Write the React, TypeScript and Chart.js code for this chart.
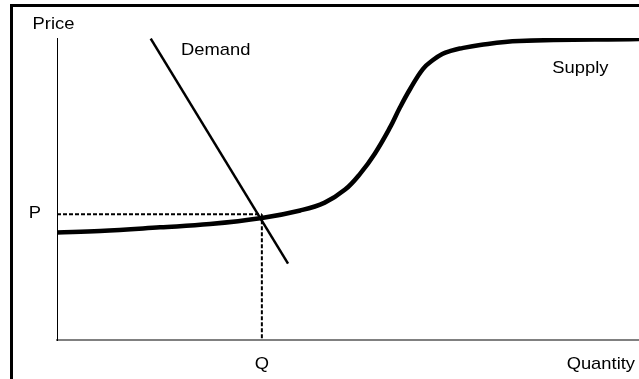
import React, { useEffect, useRef } from "react";
import { Chart, registerables } from "chart.js";

Chart.register(...registerables);

// Supply curve (quantity, price) in 0..100 units
const supplyQ = [0, 7.4, 17.7, 26.3, 35.2, 41.8, 46.0, 49.5, 52.1, 54.6, 57.2, 58.9, 60.7, 62.9, 64.6, 66.2, 67.8, 69.2, 72.7, 79.4, 100];
const supplyP = [35.6, 36.1, 37.3, 38.4, 40.4, 42.9, 45.5, 49.8, 55.1, 61.7, 70.3, 76.9, 83.2, 89.8, 92.7, 94.7, 95.8, 96.5, 97.7, 99.0, 99.7];

// Demand line
const demandQ = [16.1, 39.7];
const demandP = [99.8, 25.3];

// Equilibrium
const eqQ = 35.2;
const eqP = 41.6;

// Labels
const axisLabels = { price: "Price", quantity: "Quantity", p: "P", q: "Q" };
const curveLabels = [
  { text: "Demand", q: 21.3, p: 94.3 },
  { text: "Supply", q: 85.1, p: 88.4 },
];

const FONT = '17px "Liberation Sans", Arial, sans-serif';

const labelPlugin = {
  id: "econLabels",
  afterDraw(chart: any) {
    const ctx = chart.ctx;
    const xs = chart.scales.x;
    const ys = chart.scales.y;
    const area = chart.chartArea;
    const draw = (t: string, x: number, y: number, align: CanvasTextAlign) => {
      ctx.save();
      ctx.font = FONT;
      ctx.fillStyle = "#000";
      ctx.textBaseline = "alphabetic";
      ctx.translate(x, y);
      ctx.scale(1.08, 1);
      ctx.textAlign = align;
      ctx.fillText(t, 0, 0);
      ctx.restore();
    };
    draw(axisLabels.price, area.left - 3.5, area.top - 9, "center");
    draw(axisLabels.quantity, area.right - 4, area.bottom + 29, "right");
    draw(axisLabels.q, xs.getPixelForValue(eqQ), area.bottom + 29, "center");
    draw(axisLabels.p, area.left - 16, ys.getPixelForValue(eqP) + 4, "right");
    curveLabels.forEach((l) => draw(l.text, xs.getPixelForValue(l.q), ys.getPixelForValue(l.p), "left"));
  },
};

export default function App() {
  const ref = useRef<HTMLCanvasElement>(null);
  useEffect(() => {
    if (!ref.current) return;
    const supply = supplyQ.map((q, i) => ({ x: q, y: supplyP[i] }));
    const demand = demandQ.map((q, i) => ({ x: q, y: demandP[i] }));
    const chart = new Chart(ref.current, {
      type: "line",
      data: {
        datasets: [
          {
            label: "Price guide",
            data: [{ x: 0, y: eqP }, { x: eqQ, y: eqP }],
            borderColor: "#000",
            borderWidth: 2,
            borderDash: [4, 2],
            pointRadius: 0,
          },
          {
            label: "Quantity guide",
            data: [{ x: eqQ, y: eqP }, { x: eqQ, y: 0 }],
            borderColor: "#000",
            borderWidth: 2,
            borderDash: [4, 2],
            pointRadius: 0,
          },
          {
            label: "Supply",
            data: supply,
            borderColor: "#000",
            borderWidth: 4.5,
            tension: 0.4,
            pointRadius: 0,
            borderCapStyle: "round",
          },
          {
            label: "Demand",
            data: demand,
            borderColor: "#000",
            borderWidth: 2.5,
            pointRadius: 0,
          },
        ],
      },
      options: {
        animation: false,
        responsive: false,
        devicePixelRatio: 1,
        layout: { padding: { left: 57, top: 38, right: 0, bottom: 39 } },
        plugins: { legend: { display: false }, tooltip: { enabled: false } },
        scales: {
          x: {
            type: "linear",
            min: 0,
            max: 100,
            grid: { display: false, drawTicks: false },
            ticks: { display: false },
            border: { display: true, color: "#808080", width: 2 },
          },
          y: {
            type: "linear",
            min: 0,
            max: 100,
            grid: { display: false, drawTicks: false },
            ticks: { display: false },
            border: { display: true, color: "#000", width: 1 },
          },
        },
      },
      plugins: [labelPlugin],
    });
    return () => chart.destroy();
  }, []);
  return (
    <div style={{ position: "fixed", left: 0, top: 0, width: 639, height: 379, background: "#fff" }}>
      <canvas ref={ref} width={639} height={379} style={{ position: "absolute", left: 0, top: 0 }} />
      <div
        style={{
          position: "absolute",
          left: 10,
          top: 4,
          right: 0,
          bottom: 0,
          borderTop: "3px solid #000",
          borderLeft: "3px solid #000",
          pointerEvents: "none",
        }}
      />
    </div>
  );
}
